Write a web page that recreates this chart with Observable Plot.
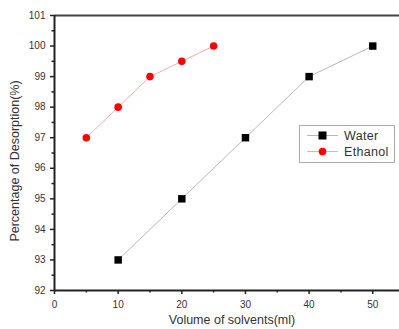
<!DOCTYPE html>
<html>
<head>
<meta charset="utf-8">
<script src="https://cdn.jsdelivr.net/npm/d3@7"></script>
<script src="https://cdn.jsdelivr.net/npm/@observablehq/plot@0.6"></script>
<style>
  html, body { margin: 0; padding: 0; background: #fff; overflow: hidden; }
  #wrap { position: relative; width: 399px; height: 329px; font-family: "Liberation Sans", Arial, sans-serif; }
  #legend { position: absolute; left: 299px; top: 125px; width: 94px; height: 36px; border: 1px solid #aaa; background: #fff; }
  .row { position: absolute; left: 0; height: 16px; display: flex; align-items: center; }
  .row span { font-size: 12.5px; color: #333; margin-left: 4px; letter-spacing: 0.3px; }
</style>
</head>
<body>
<div id="wrap"></div>
<script>
const volume = "Volume of solvents(ml)";
const waterX = [10, 20, 30, 40, 50];
const waterY = [93, 95, 97, 99, 100];
const ethanolX = [5, 10, 15, 20, 25];
const ethanolY = [97, 98, 99, 99.5, 100];
const xMajor = [0, 10, 20, 30, 40, 50];
const xMinor = [5, 15, 25, 35, 45];
const yMajor = [92, 93, 94, 95, 96, 97, 98, 99, 100, 101];
const yMinor = [92.5, 93.5, 94.5, 95.5, 96.5, 97.5, 98.5, 99.5, 100.5];

const water = waterX.map((x, i) => ({x, y: waterY[i]}));
const ethanol = ethanolX.map((x, i) => ({x, y: ethanolY[i]}));

const chart = Plot.plot({
  width: 399,
  height: 329,
  marginLeft: 54,
  marginTop: 15,
  marginBottom: 39,
  marginRight: 0,
  style: {fontFamily: "'Liberation Sans', Arial, sans-serif", fontSize: "10px", color: "#333", background: "#fff"},
  x: {domain: [0, 54.2]},
  y: {domain: [92, 101]},
  marks: [
    Plot.line(water, {x: "x", y: "y", stroke: "#b8b8b8", strokeWidth: 1}),
    Plot.line(ethanol, {x: "x", y: "y", stroke: "#ffaaaa", strokeWidth: 1}),
    Plot.dot(water, {x: "x", y: "y", symbol: "square", r: 4.2, fill: "#000"}),
    Plot.dot(ethanol, {x: "x", y: "y", symbol: "circle", r: 3.8, fill: "#ff0000"}),
    Plot.axisX({ticks: xMajor, tickSize: 4, tickPadding: 6, stroke: "#222", strokeWidth: 1.5, fill: "#333", fontSize: 10, label: null}),
    Plot.axisX({ticks: xMinor, tickSize: 2.5, stroke: "#222", strokeWidth: 1.5, text: null, label: null}),
    Plot.axisY({ticks: yMajor, tickSize: 4, tickPadding: 5, stroke: "#222", strokeWidth: 1.5, fill: "#333", fontSize: 10, label: null}),
    Plot.axisY({ticks: yMinor, tickSize: 2.5, stroke: "#222", strokeWidth: 1.5, text: null, label: null}),
    Plot.ruleY([101], {stroke: "#444", strokeWidth: 2}),
    Plot.ruleY([92], {stroke: "#222", strokeWidth: 2}),
    Plot.ruleX([0], {stroke: "#222", strokeWidth: 2}),
    Plot.text([volume], {frameAnchor: "bottom", dy: 33, fontSize: 12.5, fill: "#333", dx: 5, text: d => d}),
    Plot.text(["Percentage of Desorption(%)"], {frameAnchor: "left", textAnchor: "middle", dx: -40, dy: 8, rotate: -90, fontSize: 12.5, fill: "#333", text: d => d})
  ]
});

const wrap = document.getElementById("wrap");
wrap.appendChild(chart);

const legend = document.createElement("div");
legend.id = "legend";
const items = [
  {name: "Water", color: "#000", line: "#b8b8b8", shape: "square"},
  {name: "Ethanol", color: "#ff0000", line: "#ffaaaa", shape: "circle"}
];
items.forEach((it, i) => {
  const row = document.createElement("div");
  row.className = "row";
  row.style.top = (2 + i * 16) + "px";
  const marker = it.shape === "square"
    ? `<rect x="18.5" y="3.5" width="8" height="8" fill="${it.color}"/>`
    : `<circle cx="22.5" cy="7.5" r="3.8" fill="${it.color}"/>`;
  row.innerHTML = `<svg width="40" height="16" style="display:block"><line x1="7" x2="38" y1="7.5" y2="7.5" stroke="${it.line}" stroke-width="1"/>${marker}</svg><span>${it.name}</span>`;
  legend.appendChild(row);
});
wrap.appendChild(legend);
</script>
</body>
</html>
